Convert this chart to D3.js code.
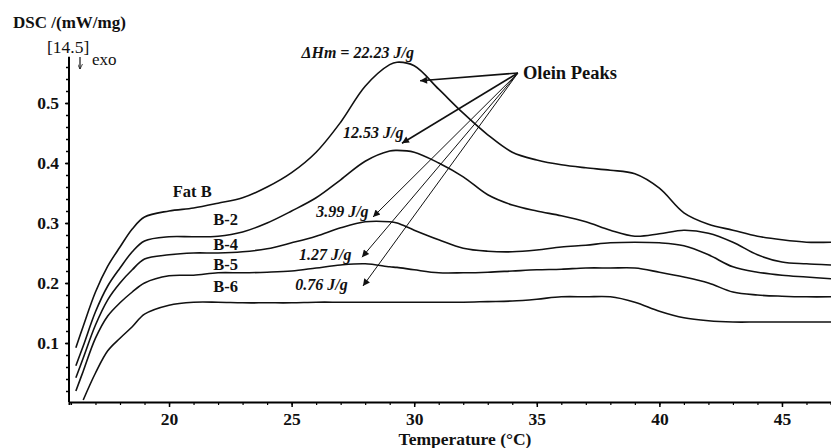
<!DOCTYPE html>
<html>
<head>
<meta charset="utf-8">
<script src="https://cdn.jsdelivr.net/npm/d3@7"></script>
<style>
  body { margin: 0; background: #fff; }
  svg text { font-family: "Liberation Serif", "Times New Roman", Times, serif; fill: #111; }
</style>
</head>
<body>
<div id="chart"></div>
<script>
// temperature grid (°C)
const temps = [16.2, 16.5, 17, 17.5, 18, 18.5, 19, 20, 21, 22, 23, 24, 25, 26, 27, 28, 29, 29.3, 30, 31, 32, 33, 34, 35, 36, 37, 38, 39, 40, 41, 42, 43, 44, 45, 46, 47];

// DSC signal (mW/mg) per sample
const fatB = [0.092, 0.128, 0.185, 0.228, 0.26, 0.29, 0.31, 0.32, 0.325, 0.333, 0.342, 0.36, 0.384, 0.418, 0.468, 0.528, 0.564, 0.568, 0.562, 0.523, 0.483, 0.447, 0.418, 0.405, 0.397, 0.392, 0.388, 0.382, 0.358, 0.317, 0.298, 0.288, 0.278, 0.272, 0.268, 0.268];
const b2 = [0.062, 0.095, 0.152, 0.195, 0.225, 0.252, 0.27, 0.277, 0.277, 0.278, 0.285, 0.30, 0.32, 0.342, 0.372, 0.403, 0.42, 0.421, 0.418, 0.40, 0.377, 0.347, 0.33, 0.32, 0.312, 0.302, 0.288, 0.278, 0.282, 0.288, 0.283, 0.268, 0.247, 0.235, 0.232, 0.23];
const b4 = [0.042, 0.075, 0.13, 0.172, 0.2, 0.222, 0.24, 0.247, 0.25, 0.25, 0.252, 0.257, 0.267, 0.278, 0.292, 0.302, 0.302, 0.30, 0.288, 0.272, 0.258, 0.253, 0.252, 0.255, 0.26, 0.263, 0.267, 0.268, 0.267, 0.262, 0.247, 0.227, 0.218, 0.213, 0.21, 0.207];
const b5 = [0.02, 0.053, 0.108, 0.145, 0.167, 0.185, 0.2, 0.212, 0.213, 0.217, 0.217, 0.218, 0.22, 0.225, 0.23, 0.232, 0.227, 0.226, 0.222, 0.217, 0.217, 0.218, 0.22, 0.222, 0.223, 0.225, 0.225, 0.225, 0.218, 0.21, 0.2, 0.185, 0.18, 0.178, 0.177, 0.177];
const b6 = [null, 0.005, 0.05, 0.087, 0.108, 0.127, 0.148, 0.163, 0.168, 0.168, 0.167, 0.167, 0.167, 0.168, 0.168, 0.168, 0.168, 0.168, 0.168, 0.168, 0.168, 0.169, 0.17, 0.173, 0.177, 0.177, 0.177, 0.168, 0.153, 0.142, 0.137, 0.135, 0.135, 0.135, 0.135, 0.135];

const seriesNames = ["Fat B", "B-2", "B-4", "B-5", "B-6"];
const xTicks = [20, 25, 30, 35, 40, 45];
const yTicks = [0.1, 0.2, 0.3, 0.4, 0.5];

// sample labels, placed in data units
const nameAt = [[20.15, 0.343], [21.8, 0.297], [21.8, 0.255], [21.8, 0.222], [21.8, 0.185]];
// melting enthalpy labels and where the arrows end
const enthalpies = ["ΔHm = 22.23 J/g", "12.53 J/g", "3.99 J/g", "1.27 J/g", "0.76 J/g"];
const enthalpyAt = [[25.4, 0.575], [27.1, 0.442], [26.0, 0.31], [25.3, 0.238], [25.15, 0.188]];
const arrowFrom = [34.23, 0.55];
const arrowTo = [[30.24, 0.537], [29.5, 0.433], [28.32, 0.31], [27.87, 0.243], [27.91, 0.195]];

const width = 831, height = 448;

const svg = d3.select("#chart").append("svg")
  .attr("width", width)
  .attr("height", height)
  .attr("font-family", "Liberation Serif, serif");

const x = d3.scaleLinear().domain([15.92, 47]).range([69, 831]);
const y = d3.scaleLinear().domain([0, 0.575]).range([403, 58]);

// arrowheads
const defs = svg.append("defs");
defs.append("marker")
  .attr("id", "head")
  .attr("viewBox", "0 0 10 10")
  .attr("refX", 10).attr("refY", 5)
  .attr("markerWidth", 10).attr("markerHeight", 7)
  .attr("markerUnits", "userSpaceOnUse")
  .attr("orient", "auto")
  .append("path").attr("d", "M0,0L10,5L0,10z").attr("fill", "#111");
defs.append("marker")
  .attr("id", "small")
  .attr("viewBox", "0 0 10 10")
  .attr("refX", 10).attr("refY", 5)
  .attr("markerWidth", 5).attr("markerHeight", 5)
  .attr("markerUnits", "userSpaceOnUse")
  .attr("orient", "auto")
  .append("path").attr("d", "M0,0L10,5L0,10").attr("fill", "none").attr("stroke", "#111").attr("stroke-width", 1.5);

const styleLabels = g => g.selectAll(".tick text")
  .attr("font-family", null)
  .attr("font-size", 17.5).attr("font-weight", "bold");

// x axis with minor ticks every degree
svg.append("g")
  .attr("transform", `translate(0,402)`)
  .call(d3.axisBottom(x).tickValues(d3.range(16, 48, 1)).tickSize(3).tickFormat(""))
  .call(g => g.select(".domain").attr("stroke-width", 2))
  .call(g => g.selectAll(".tick line").attr("stroke-width", 1.2));

svg.append("g")
  .attr("transform", `translate(0,402)`)
  .call(d3.axisBottom(x).tickValues(xTicks).tickSize(5).tickPadding(6))
  .call(g => g.select(".domain").remove())
  .call(g => g.selectAll(".tick line").attr("stroke-width", 1.5))
  .call(styleLabels);

// y axis with minor ticks every 0.02
svg.append("g")
  .attr("transform", `translate(69,0)`)
  .call(d3.axisLeft(y).tickValues(d3.range(1, 29).map(d => d * 0.02)).tickSize(3).tickFormat(""))
  .call(g => g.select(".domain").attr("stroke-width", 2).attr("d", `M0,${y(0.577)}V402`))
  .call(g => g.selectAll(".tick line").attr("stroke-width", 1.5));

svg.append("g")
  .attr("transform", `translate(69,0)`)
  .call(d3.axisLeft(y).tickValues(yTicks).tickSize(4).tickPadding(6).tickFormat(d3.format(".1f")))
  .call(g => g.select(".domain").remove())
  .call(g => g.selectAll(".tick line").attr("stroke-width", 1.5))
  .call(styleLabels);

// axis titles
svg.append("text").attr("x", 465).attr("y", 445).attr("text-anchor", "middle")
  .attr("font-size", 17.5).attr("font-weight", "bold").text("Temperature (°C)");
svg.append("text").attr("x", 13).attr("y", 28)
  .attr("font-size", 17).attr("font-weight", "bold").text("DSC /(mW/mg)");
svg.append("text").attr("x", 47).attr("y", 53)
  .attr("font-size", 17.5).text("[14.5]");
svg.append("line").attr("x1", 80).attr("x2", 80).attr("y1", 57).attr("y2", 69)
  .attr("stroke", "#111").attr("stroke-width", 1.2).attr("marker-end", "url(#small)");
svg.append("text").attr("x", 92).attr("y", 65)
  .attr("font-size", 17).text("exo");

// curves
const line = d3.line()
  .defined(d => d[1] !== null)
  .x(d => x(d[0]))
  .y(d => y(d[1]))
  .curve(d3.curveCatmullRom.alpha(0.5));

const allSeries = [fatB, b2, b4, b5, b6];
svg.append("g")
  .selectAll("path")
  .data(allSeries)
  .join("path")
  .attr("d", vals => line(temps.map((t, i) => [t, vals[i]])))
  .attr("fill", "none")
  .attr("stroke", "#111")
  .attr("stroke-width", 1.6);

// sample names
svg.append("g")
  .selectAll("text")
  .data(seriesNames)
  .join("text")
  .attr("x", (d, i) => x(nameAt[i][0]))
  .attr("y", (d, i) => y(nameAt[i][1]))
  .attr("font-size", 16.5).attr("font-weight", "bold")
  .text(d => d);

// enthalpy labels
svg.append("g")
  .selectAll("text")
  .data(enthalpies)
  .join("text")
  .attr("x", (d, i) => x(enthalpyAt[i][0]))
  .attr("y", (d, i) => y(enthalpyAt[i][1]))
  .attr("font-size", 16).attr("font-weight", "bold").attr("font-style", "italic")
  .text(d => d);

// arrows from the "Olein Peaks" label
svg.append("g")
  .selectAll("line")
  .data(arrowTo)
  .join("line")
  .attr("x1", x(arrowFrom[0])).attr("y1", y(arrowFrom[1]))
  .attr("x2", d => x(d[0])).attr("y2", d => y(d[1]))
  .attr("stroke", "#111")
  .attr("stroke-width", (d, i) => i < 2 ? 1.6 : 1)
  .attr("marker-end", "url(#head)");

svg.append("text").attr("x", x(arrowFrom[0]) + 5).attr("y", y(arrowFrom[1]) + 6)
  .attr("font-size", 18.5).attr("font-weight", "bold").text("Olein Peaks");
</script>
</body>
</html>
